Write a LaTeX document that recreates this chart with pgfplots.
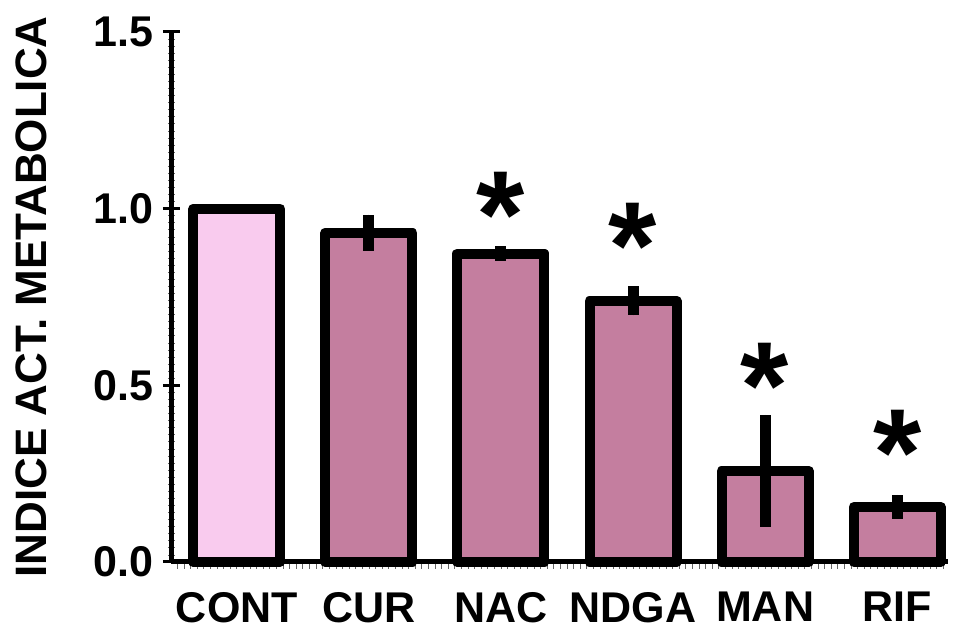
\documentclass[border=0pt]{standalone}
\usepackage{pgfplots}
\pgfplotsset{compat=1.18}
\usepackage{fontspec}
\setmainfont{Liberation Sans}

\definecolor{contfill}{RGB}{249,203,238}
\definecolor{treatfill}{RGB}{196,126,159}

\begin{document}
\begin{tikzpicture}
\begin{axis}[
  name=ax,
  scale only axis,
  width=388.25pt, height=265pt,
  xmin=-0.495, xmax=5.385,
  ymin=0, ymax=1.5,
  axis x line*=bottom, axis y line*=left,
  axis line style={line width=2.5pt, -},
  xtick={0,1,2,3,4,5},
  xticklabels={CONT,CUR,NAC,NDGA,MAN,RIF},
  major x tick style={draw=none},
  minor xtick={-0.45,-0.4,...,5.36},
  ytick={0,0.5,1.0,1.5},
  minor ytick={0.02,0.04,...,1.49},
  tick align=center,
  major tick length=8.5pt,
  minor tick length=3.5pt,
  major tick style={line width=1.5pt, black},
  minor tick style={line width=0.4pt, black!60},
  yticklabel style={/pgf/number format/fixed, /pgf/number format/fixed zerofill,
    /pgf/number format/precision=1, /pgf/number format/assume math mode=true},
  ticklabel style={font=\fontsize{21.5}{21.5}\selectfont\bfseries},
  xticklabel style={yshift=-3pt},
  yticklabel style={xshift=-1.5pt},
  ylabel={INDICE ACT. METABOLICA},
  ylabel style={font=\fontsize{22}{22}\selectfont\bfseries, at={(axis description cs:-0.1803,0.5)}, anchor=center},
  ybar, bar width=43.5pt, bar shift=0pt,
  clip=false,
]
% control group
\addplot[draw=black, line width=5pt, line join=round, fill=contfill]
  coordinates {(0,1.0)};
% treatments, mean with error
\addplot[draw=black, line width=5pt, line join=round, fill=treatfill,
  error bars/.cd, y dir=both, y explicit,
  error mark=none, error bar style={line width=5.5pt, black}]
  coordinates {
    (1,0.932) +- (0,0.051)
    (2,0.873) +- (0,0.021)
    (3,0.739) +- (0,0.041)
    (4,0.258) +- (0,0.158)
    (5,0.156) +- (0,0.034)
  };
% significance marks
\addplot[draw=none, mark=none, bar shift=0pt, fill=none,
  nodes near coords={*},
  nodes near coords style={anchor=north, inner sep=0pt, font=\fontsize{62}{62}\selectfont\bfseries}]
  coordinates {(2,1.105) (3,1.017) (4,0.620) (5,0.431)};
\end{axis}
\path[use as bounding box] ([xshift=-85.75pt,yshift=-30.5pt]ax.south west) rectangle ([xshift=391.75pt,yshift=281pt]ax.south west);
\end{tikzpicture}
\end{document}
